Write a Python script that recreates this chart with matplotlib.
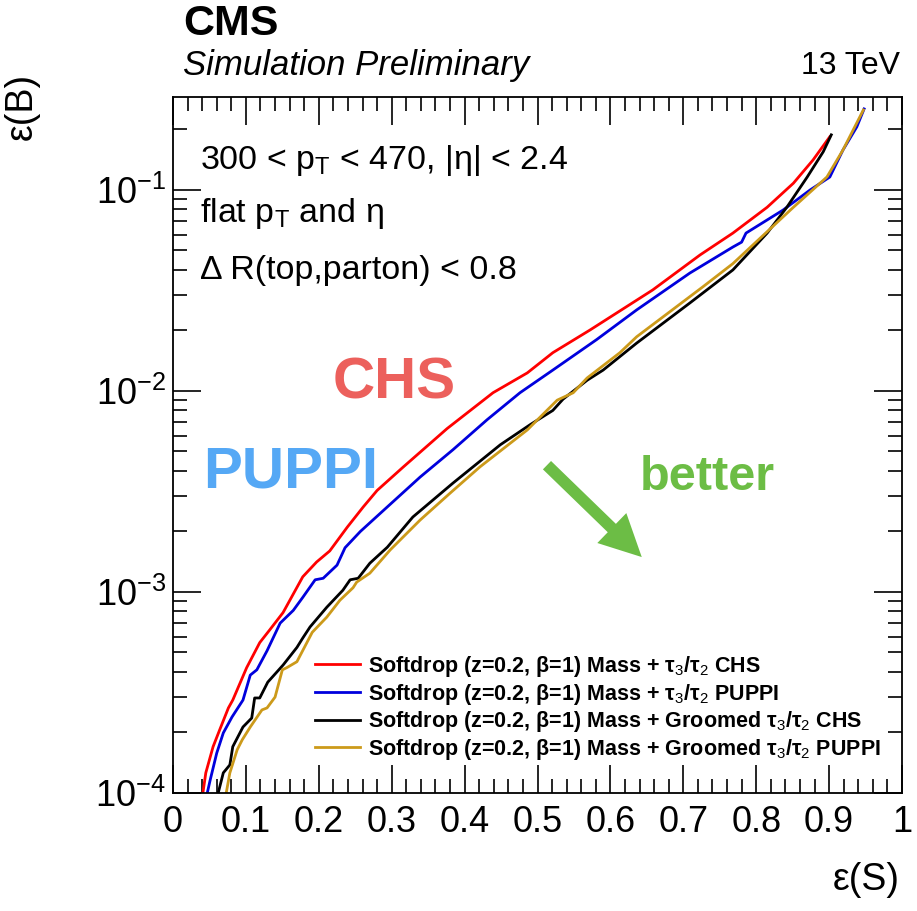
import matplotlib
matplotlib.use("Agg")
import matplotlib.pyplot as plt
from matplotlib.ticker import FixedLocator, LogLocator, NullFormatter

plt.rcParams['font.family'] = ['Liberation Sans', 'DejaVu Sans']
plt.rcParams['mathtext.fontset'] = 'custom'
plt.rcParams['mathtext.rm'] = 'Liberation Sans'
plt.rcParams['mathtext.it'] = 'Liberation Sans:italic'
plt.rcParams['mathtext.bf'] = 'Liberation Sans:bold'

# ROC curves: eff(S) vs eff(B)
red_x = [0.041, 0.045, 0.055, 0.064, 0.076, 0.082, 0.101, 0.119, 0.133, 0.151, 0.178, 0.197, 0.215,
         0.239, 0.261, 0.280, 0.316, 0.376, 0.439, 0.486, 0.521, 0.572, 0.658, 0.723, 0.768, 0.815,
         0.851, 0.878, 0.901]
red_y = [1.0e-4, 1.26e-4, 1.7e-4, 2.06e-4, 2.65e-4, 2.9e-4, 4.2e-4, 5.6e-4, 6.5e-4, 7.9e-4, 1.19e-3,
         1.41e-3, 1.6e-3, 2.1e-3, 2.65e-3, 3.2e-3, 4.19e-3, 6.5e-3, 9.8e-3, 1.23e-2, 1.55e-2, 2.01e-2,
         3.18e-2, 4.75e-2, 6.1e-2, 8.2e-2, 0.108, 0.141, 0.184]

blue_x = [0.047, 0.051, 0.060, 0.069, 0.081, 0.096, 0.106, 0.115, 0.129, 0.147, 0.165, 0.178, 0.195,
          0.206, 0.225, 0.236, 0.257, 0.294, 0.339, 0.384, 0.431, 0.476, 0.521, 0.581, 0.636, 0.709,
          0.768, 0.780, 0.786, 0.837, 0.874, 0.901, 0.919, 0.938, 0.948]
blue_y = [1.0e-4, 1.16e-4, 1.58e-4, 1.99e-4, 2.39e-4, 2.9e-4, 3.86e-4, 4.1e-4, 5.1e-4, 7.0e-4, 8.1e-4,
          9.4e-4, 1.15e-3, 1.17e-3, 1.36e-3, 1.66e-3, 2.0e-3, 2.65e-3, 3.73e-3, 5.1e-3, 7.2e-3, 9.8e-3,
          1.27e-2, 1.8e-2, 2.53e-2, 3.86e-2, 5.2e-2, 5.5e-2, 6.1e-2, 7.95e-2, 0.100, 0.116, 0.158,
          0.206, 0.253]

black_x = [0.062, 0.069, 0.078, 0.082, 0.096, 0.108, 0.112, 0.119, 0.130, 0.151, 0.170, 0.178, 0.188,
           0.211, 0.233, 0.243, 0.254, 0.270, 0.294, 0.329, 0.384, 0.449, 0.490, 0.521, 0.535, 0.568,
           0.590, 0.636, 0.709, 0.768, 0.815, 0.842, 0.870, 0.892, 0.903]
black_y = [1.0e-4, 1.26e-4, 1.38e-4, 1.7e-4, 2.13e-4, 2.36e-4, 2.97e-4, 2.97e-4, 3.56e-4, 4.33e-4,
           5.3e-4, 5.9e-4, 6.7e-4, 8.4e-4, 1.02e-3, 1.15e-3, 1.17e-3, 1.39e-3, 1.67e-3, 2.36e-3,
           3.48e-3, 5.4e-3, 6.8e-3, 8.0e-3, 9.1e-3, 1.13e-2, 1.27e-2, 1.73e-2, 2.74e-2, 4.0e-2, 6.1e-2,
           8.2e-2, 0.116, 0.155, 0.188]

gold_x = [0.073, 0.078, 0.088, 0.095, 0.106, 0.122, 0.129, 0.140, 0.150, 0.156, 0.170, 0.191, 0.211,
          0.229, 0.247, 0.252, 0.270, 0.298, 0.339, 0.380, 0.421, 0.486, 0.527, 0.549, 0.568, 0.613,
          0.636, 0.727, 0.768, 0.815, 0.851, 0.897, 0.919, 0.947]
gold_y = [1.0e-4, 1.26e-4, 1.64e-4, 1.84e-4, 2.13e-4, 2.59e-4, 2.65e-4, 3.0e-4, 4.1e-4, 4.2e-4, 4.5e-4,
          6.3e-4, 7.5e-4, 9.1e-4, 1.05e-3, 1.12e-3, 1.24e-3, 1.62e-3, 2.28e-3, 3.1e-3, 4.19e-3,
          6.4e-3, 9.0e-3, 9.8e-3, 1.16e-2, 1.55e-2, 1.86e-2, 3.3e-2, 4.3e-2, 6.2e-2, 8.2e-2, 0.116,
          0.158, 0.25]

labels = [r"Softdrop (z=0.2, β=1) Mass + τ$_{3}$/τ$_{2}$ CHS",
          r"Softdrop (z=0.2, β=1) Mass + τ$_{3}$/τ$_{2}$ PUPPI",
          r"Softdrop (z=0.2, β=1) Mass + Groomed τ$_{3}$/τ$_{2}$ CHS",
          r"Softdrop (z=0.2, β=1) Mass + Groomed τ$_{3}$/τ$_{2}$ PUPPI"]
colors = ['#ff0000', '#0000dd', '#000000', '#cc9a1a']

xticks = [0, 0.1, 0.2, 0.3, 0.4, 0.5, 0.6, 0.7, 0.8, 0.9, 1]
xticklabels = ['0', '0.1', '0.2', '0.3', '0.4', '0.5', '0.6', '0.7', '0.8', '0.9', '1']

fig = plt.figure(figsize=(9.17, 9.11), dpi=100)
ax = fig.add_axes([173/917, 1 - 793/911, 729/917, 696/911])

for xs, ys, c, lab in zip([red_x, blue_x, black_x, gold_x], [red_y, blue_y, black_y, gold_y], colors, labels):
    ax.plot(xs, ys, color=c, lw=2.0, label=lab)

ax.set_yscale('log')
ax.set_xlim(0, 1)
ax.set_ylim(1e-4, 0.29)

ax.xaxis.set_major_locator(FixedLocator(xticks))
ax.set_xticklabels(xticklabels)
ax.xaxis.set_minor_locator(FixedLocator([i * 0.02 for i in range(51)]))
ax.yaxis.set_major_locator(LogLocator(base=10, numticks=10))
ax.yaxis.set_minor_locator(LogLocator(base=10, subs=range(2, 10), numticks=20))
ax.yaxis.set_minor_formatter(NullFormatter())
ax.tick_params(which='both', direction='in', top=True, right=True, width=1.2, labelsize=26)
ax.tick_params(which='major', length=20)
ax.tick_params(which='minor', length=10)
ax.tick_params(axis='x', pad=9)
ax.tick_params(axis='y', pad=5)
for s in ax.spines.values():
    s.set_linewidth(1.3)

leg = ax.legend(loc='lower left', bbox_to_anchor=(0.195, 0.045), frameon=False, handlelength=2.1,
                labelspacing=0.12, handletextpad=0.37, borderpad=0, borderaxespad=0,
                prop={'weight': 'bold', 'size': 15.5})

ax.text(0.037, 0.909, r"300 < p$_{\rm T}$ < 470, |η| < 2.4", transform=ax.transAxes,
        fontsize=24.5, va='center')
ax.text(0.037, 0.833, r"flat p$_{\rm T}$ and η", transform=ax.transAxes, fontsize=24.5, va='center')
ax.text(0.037, 0.751, r"Δ R(top,parton) < 0.8", transform=ax.transAxes, fontsize=24.5, va='center')

ax.text(0.219, 0.589, "CHS", transform=ax.transAxes, fontsize=42, weight='bold', color='#ec605c',
        va='center')
ax.text(0.041, 0.460, "PUPPI", transform=ax.transAxes, fontsize=42, weight='bold', color='#55a8f5',
        va='center')
ax.text(0.641, 0.453, "better", transform=ax.transAxes, fontsize=35, weight='bold', color='#6cbd45',
        va='center')
ax.annotate("", xy=(0.643, 0.339), xytext=(0.513, 0.471), xycoords='axes fraction',
            arrowprops=dict(arrowstyle='simple,head_length=1.5,head_width=1.5,tail_width=0.42',
                            mutation_scale=20, color='#6cbd45', lw=0, shrinkA=0, shrinkB=0))

fig.text(183/917, 1 - 24/911, "CMS", fontsize=31, weight='bold', va='center')
fig.text(183/917, 1 - 66/911, "Simulation Preliminary", fontsize=25, style='italic', va='center')
fig.text(900/917, 1 - 66/911, "13 TeV", fontsize=23, ha='right', va='center')
fig.text(22/917, 1 - 73/911, "ε(B)", fontsize=27, rotation=90, ha='center', va='top')
fig.text(900/917, 1 - 880/911, "ε(S)", fontsize=27, ha='right', va='center')

fig.savefig("out.png", dpi=100)
